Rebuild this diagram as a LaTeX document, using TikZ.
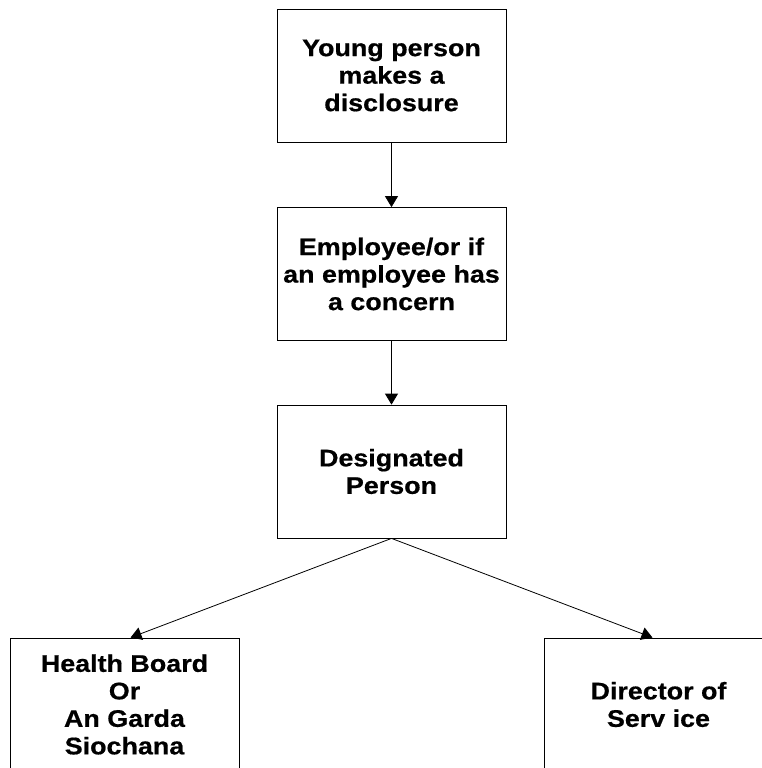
\documentclass[tikz,border=0pt]{standalone}
\usepackage{fontspec}
\setmainfont{Liberation Sans}[FakeStretch=1.12,FakeBold=0.6]
\usetikzlibrary{positioning}
\usetikzlibrary{arrows.meta}
\tikzstyle{box} = [draw, line width=0.8pt, minimum width=229pt, minimum height=133pt, align=center, inner sep=0pt, font=\fontsize{24}{27.5}\selectfont\bfseries]
\tikzstyle{arrow} = [line width=0.8pt, -{Triangle[width=13pt,length=11pt]}]

\begin{document}
\begin{tikzpicture}[x=1pt,y=-1pt]
      \useasboundingbox (0,0) rectangle (762,768);
      %%%%%%%%%%%%%%%%%%%%%%%%%%%%%%%%%%%%%%%
      \node (young) at (391.5,75.5) [box] {Young person\\makes a\\disclosure};
      \node (employee) at (391.5,274) [box] {Employee/or if\\an employee has\\a concern};
      \node (designated) at (391.5,471.5) [box] {Designated\\Person};
      \node (board) at (124.5,704.5) [box] {Health Board\\Or\\An Garda\\Siochana};
      \node (director) at (658.5,704.5) [box] {Director of\\Serv ice};
      \draw[arrow] (young)--(employee);
      \draw[arrow] (employee)--(designated);
      \draw[arrow] (designated.south)--([xshift=6pt]board.north);
      \draw[arrow] (designated.south)--([xshift=-6pt]director.north);
\end{tikzpicture}
\end{document}
